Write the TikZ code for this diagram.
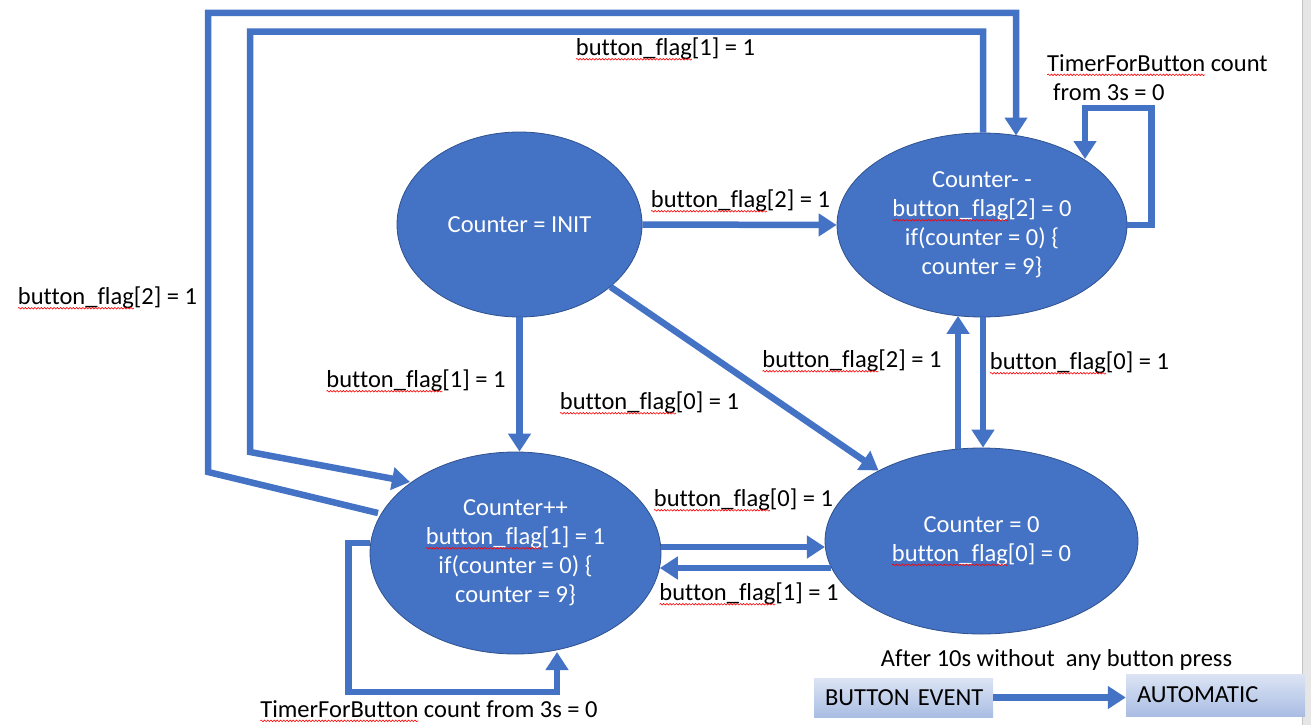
\documentclass[tikz,border=0pt]{standalone}
\usepackage{fontspec}
\setmainfont{Carlito}[Ligatures=CommonOff]
\usetikzlibrary{arrows.meta,shapes.geometric,calc,decorations.pathmorphing}
\definecolor{blu}{HTML}{4472C4}
\definecolor{blubd}{HTML}{2F528F}
\definecolor{boxtop}{HTML}{DCE4F4}
\definecolor{boxbot}{HTML}{A9BDE3}
\definecolor{edgegray}{HTML}{E6E6E6}
\definecolor{edgeline}{HTML}{C4C4C4}
\newcommand\sqw[1]{\tikz[baseline=(sqwn.base),x=1pt,y=1pt]{\node[rectangle,draw=none,fill=none,inner sep=0pt,outer sep=0pt,minimum size=0pt] (sqwn) {#1};\draw[overlay,red,line width=0.6pt,fill=none,-,decorate,decoration={snake,amplitude=0.8pt,segment length=3.2pt}] ([yshift=-3.5pt]sqwn.base west) -- ([yshift=-3.5pt]sqwn.base east);}}
\newcommand\bfl{\sqw{button\_flag}}
\begin{document}
\begin{tikzpicture}[x=1pt,y=-1pt,
  st/.style={ellipse, fill=blu, draw=blubd, line width=0.8pt, text=white, align=center, inner sep=0pt, font=\fontsize{24.5}{29}\selectfont},
  lbl/.style={inner sep=0pt, font=\fontsize{24.5}{29}\selectfont, text=black},
  arr/.style={draw=blu, line width=6.5pt, line join=miter, -{Triangle[width=22pt,length=18pt]}},
  evbox/.style={rectangle, top color=boxtop, bottom color=boxbot, inner xsep=11pt, inner ysep=0pt, align=left, font=\fontsize{24.5}{29}\selectfont}]
\fill[white] (0,0) rectangle (1311,725);
\useasboundingbox (0,0) rectangle (1311,725);
\fill[edgegray] (1302,0) rectangle (1311,725);
\draw[edgeline, line width=1.2pt] (1302.5,0) -- (1302.5,725);

% states
\node[st, minimum width=245, minimum height=185] (init) at (519.5,224.5) {Counter = INIT};
\node[st, minimum width=290, minimum height=184] (cdec) at (982,225) {Counter- -\\\bfl[2] = 0\\if(counter = 0) \{\\counter = 9\}};
\node[st, minimum width=291, minimum height=202] (cpp) at (515.5,553) {Counter++\\\bfl[1] = 1\\if(counter = 0) \{\\counter = 9\}};
\node[st, minimum width=313, minimum height=186] (c0) at (981.5,541) {Counter = 0\\\bfl[0] = 0};

% transitions
\draw[arr] (init.east) -- (cdec.west);
\draw[arr] (init.south) -- (init.south |- cpp.north);
\draw[arr] (init) -- (c0);
\draw[arr] ($(cdec.south)+(1,0)$) -- ($(c0.north)+(1.5,0)$);
\draw[arr] ($(c0.north)+(-23.5,1)$) -- ($(cdec.south)+(-24,-1.5)$);
\draw[arr] ($(cpp.east)+(0,-6)$) -- ($(c0.west)+(0.3,6)$);
\draw[arr] ($(c0.west)+(6.7,27)$) -- ($(cpp.east)+(-1.6,15)$);
% self loops
\draw[arr] (cdec.east) -- ++(24,0) |- ($(cdec.center)+(103,-117)$) -- ($(cdec.center)+(103,-66)$);
\draw[arr] ($(cpp.west)+(0.7,-10)$) -- ++(-22,0) |- ($(cpp.center)+(41.5,139)$) -- ($(cpp.center)+(41.5,99)$);
% big outer loops
\draw[arr] ($(cpp.center)+(-137.5,-40)$) -- (208,472) -- (208,13) -| ($(cdec.center)+(34,-89.5)$);
\draw[arr] ($(cdec.north)+(1,0)$) -- ++(0,-101) -| (250,452) -- ($(cpp.center)+(-105.5,-71)$);

% labels
\node[lbl] (l1) at (665.5,49) {\bfl[1] = 1};
\node[lbl] (l2) at (107.5,298) {\bfl[2] = 1};
\node[lbl] (l3) at (740.5,201) {\bfl[2] = 1};
\node[lbl] (l4) at (416,381) {\bfl[1] = 1};
\node[lbl] (l5) at (649.5,403) {\bfl[0] = 1};
\node[lbl] (l6) at (852,361) {\bfl[2] = 1};
\node[lbl] (l7) at (1079.5,363) {\bfl[0] = 1};
\node[lbl] (l8) at (743.5,500) {\bfl[0] = 1};
\node[lbl] (l9) at (749,594) {\bfl[1] = 1};
\node[lbl] (l10) at (429,709) {\sqw{TimerForButton} count from 3s = 0};
\node[lbl, align=left, anchor=west] (l11) at (1047,77.5) {\sqw{TimerForButton} count\\\hspace*{6pt}from 3s = 0};
\node[lbl] (l12) at (1056.5,660) {After 10s without~ any button press};

% legend
\node[evbox, text width=157, minimum height=39] (be) at (903.5,697.5) {\mbox{BUTTON EVENT}};
\node[evbox, text width=157, minimum height=42] (auto) at (1215.5,695) {\mbox{AUTOMATIC}};
\draw[arr] (be.east) -- (be.east -| auto.west);
\end{tikzpicture}
\end{document}
